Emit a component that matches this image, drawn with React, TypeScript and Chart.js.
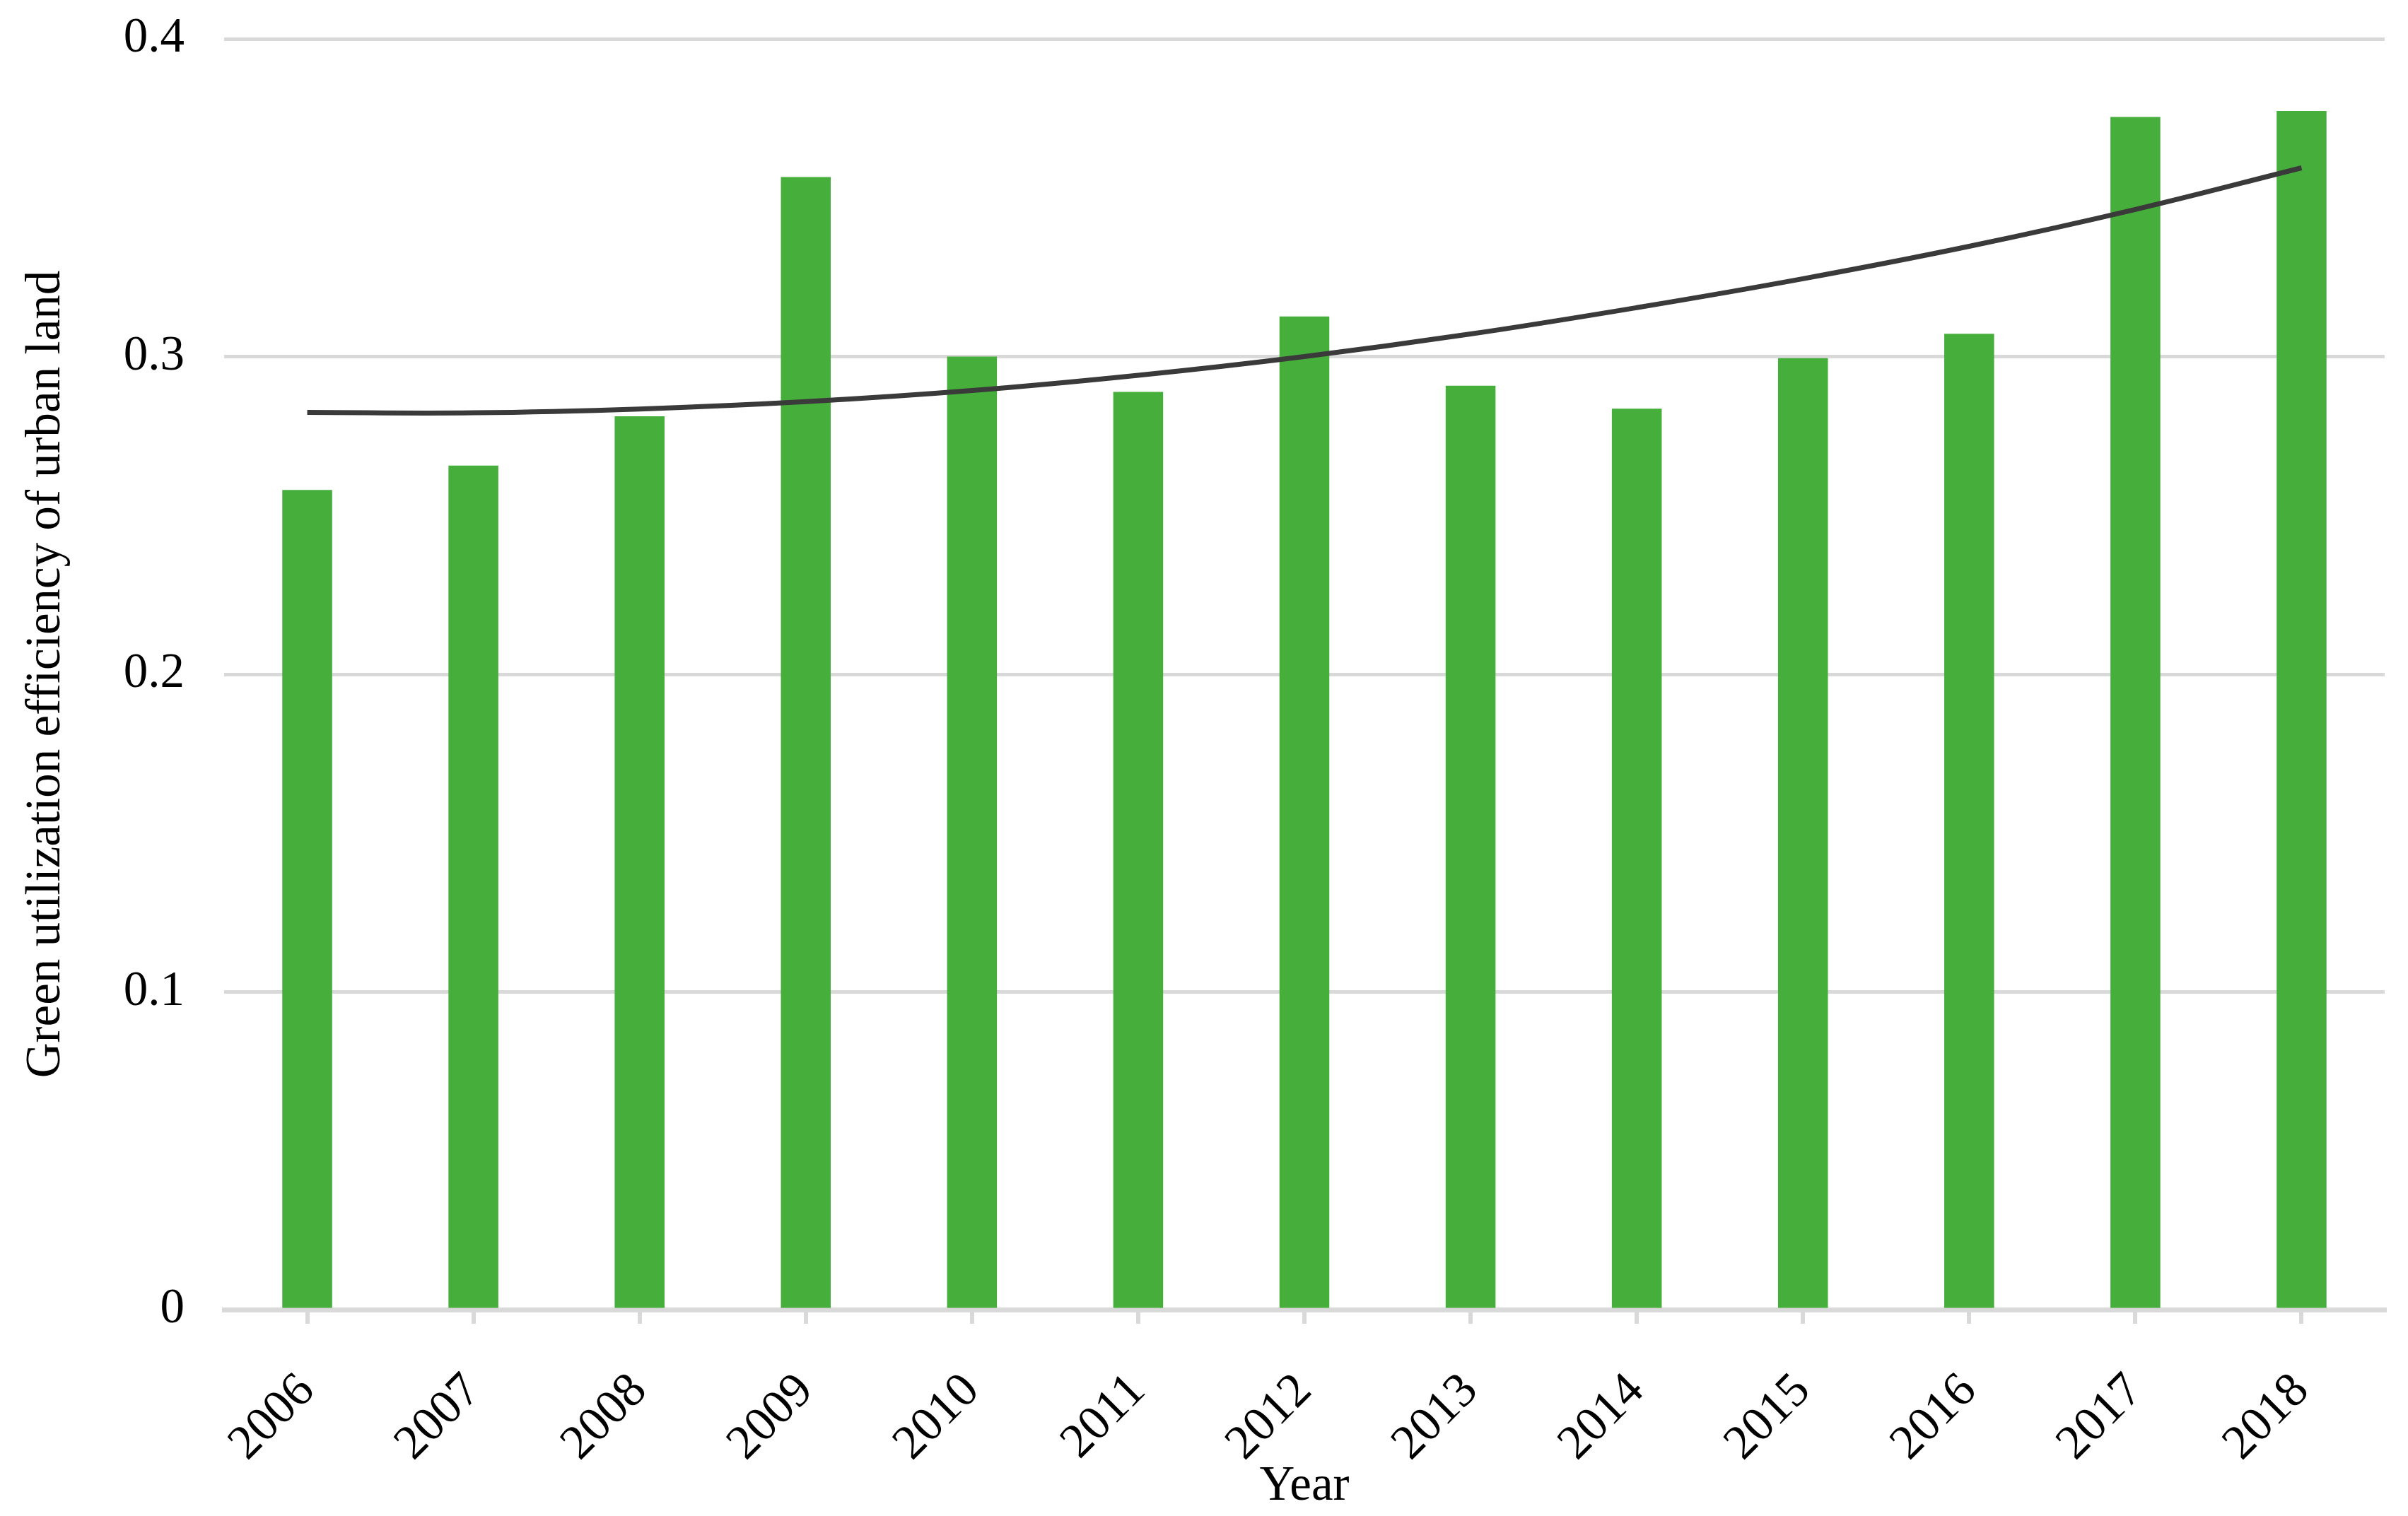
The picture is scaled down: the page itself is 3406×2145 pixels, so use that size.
import React, { useEffect, useRef } from "react";
import { Chart, registerables } from "chart.js";

Chart.register(...registerables);

const years = ["2006", "2007", "2008", "2009", "2010", "2011", "2012", "2013", "2014", "2015", "2016", "2017", "2018"];
const efficiency = [0.258, 0.2657, 0.2812, 0.3565, 0.3, 0.2889, 0.3126, 0.2908, 0.2836, 0.2995, 0.3072, 0.3754, 0.3773];
const trend = [0.2824, 0.2823, 0.2835, 0.2858, 0.2893, 0.2941, 0.3, 0.3071, 0.3154, 0.3245, 0.3347, 0.3463, 0.3594];
const yTicks = [0, 0.1, 0.2, 0.3, 0.4];

const FONT = "'Liberation Serif', 'Times New Roman', serif";
const FS = 69;

export default function App() {
  const ref = useRef<HTMLCanvasElement | null>(null);

  useEffect(() => {
    document.body.style.margin = "0";
    const canvas = ref.current;
    if (!canvas) return;
    const chart = new Chart(canvas, {
      type: "bar",
      data: {
        labels: years,
        datasets: [
          {
            type: "line",
            label: "Trend",
            data: trend,
            borderColor: "#3a3a3a",
            borderWidth: 7,
            pointRadius: 0,
            tension: 0.4,
            fill: false,
            order: 0,
          } as any,
          {
            type: "bar",
            label: "Green utilization efficiency of urban land",
            data: efficiency,
            backgroundColor: "#46ae3a",
            borderWidth: 0,
            barPercentage: 0.3,
            categoryPercentage: 1,
            order: 1,
          },
        ],
      },
      options: {
        responsive: false,
        animation: false,
        devicePixelRatio: 1,
        layout: { padding: { left: 0, right: 33, top: 55, bottom: 0 } },
        plugins: { legend: { display: false }, tooltip: { enabled: false } },
        scales: {
          x: {
            offset: true,
            grid: {
              drawOnChartArea: false,
              drawTicks: true,
              tickLength: 20,
              color: "#d9d9d9",
              lineWidth: 6,
              offset: false,
            },
            border: { display: true, color: "#d9d9d9", width: 7 },
            ticks: {
              autoSkip: false,
              maxRotation: 45,
              minRotation: 45,
              padding: 55,
              color: "#000",
              font: { family: FONT, size: FS },
            },
            title: {
              display: true,
              text: "Year",
              color: "#000",
              font: { family: FONT, size: FS },
              padding: { top: 0, bottom: 0 },
            },
            afterFit: (scale: any) => {
              scale.height = 2145 - 1853;
            },
          },
          y: {
            min: 0,
            max: 0.4,
            afterBuildTicks: (scale: any) => {
              scale.ticks = yTicks.map((v) => ({ value: v }));
            },
            grid: { color: "#d9d9d9", lineWidth: 5, drawTicks: false },
            border: { display: false },
            ticks: {
              padding: 56,
              color: "#000",
              font: { family: FONT, size: FS },
              callback: (v: any) => String(v),
            },
            title: {
              display: true,
              text: "Green utilization efficiency of urban land",
              color: "#000",
              font: { family: FONT, size: FS },
              padding: { top: 24, bottom: 0 },
            },
            afterFit: (scale: any) => {
              scale.width = 317;
              scale.paddingTop = 0;
              scale.paddingBottom = 0;
            },
          },
        },
      },
    });
    return () => chart.destroy();
  }, []);

  return (
    <canvas
      ref={ref}
      width={3406}
      height={2145}
      style={{ display: "block", width: 3406, height: 2145 }}
    />
  );
}
